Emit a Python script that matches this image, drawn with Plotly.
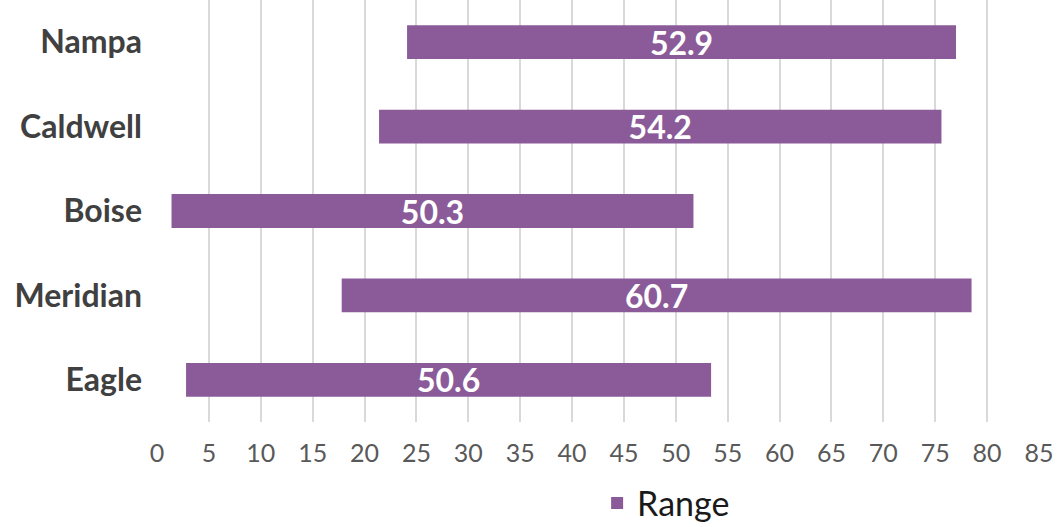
import plotly.graph_objects as go

cities = ["Eagle", "Meridian", "Boise", "Caldwell", "Nampa"]
low_values = [2.8, 17.8, 1.4, 21.4, 24.1]
range_values = [50.6, 60.7, 50.3, 54.2, 52.9]
x_ticks = list(range(0, 90, 5))

BAR_COLOR = "#8B5B99"
FONT = "Lato"

fig = go.Figure()
fig.add_trace(go.Bar(
    y=cities,
    x=range_values,
    base=low_values,
    orientation="h",
    name="Range",
    marker=dict(color=BAR_COLOR, line=dict(width=0)),
    text=[f"{v:.1f}" for v in range_values],
    textposition="inside",
    insidetextanchor="middle",
    constraintext="none",
    textangle=0,
    textfont=dict(family=FONT, size=32, color="white", weight="bold"),
    cliponaxis=False,
))

fig.update_layout(
    width=1063,
    height=527,
    margin=dict(l=157, r=24, t=0, b=105, autoexpand=False),
    plot_bgcolor="white",
    paper_bgcolor="white",
    bargap=0.6,
    showlegend=True,
    legend=dict(
        orientation="h",
        x=0.499,
        xanchor="left",
        y=-0.193,
        yanchor="middle",
        font=dict(family=FONT, size=34, color="#1a1a1a"),
        itemwidth=30,
    ),
    xaxis=dict(
        range=[0, 85],
        tickvals=x_ticks,
        showgrid=True,
        gridcolor="#D9D9D9",
        gridwidth=2,
        zeroline=False,
        showline=False,
        ticks="",
        automargin=False,
        ticklabelstandoff=14,
        tickfont=dict(family=FONT, size=25, color="#595959"),
    ),
    yaxis=dict(
        categoryorder="array",
        categoryarray=cities,
        showgrid=False,
        zeroline=False,
        showline=False,
        ticks="",
        automargin=False,
        ticklabelstandoff=14,
        tickfont=dict(family=FONT, size=32, color="#404040", weight="bold"),
    ),
)

fig.write_html(
    "out.html",
    config={"displayModeBar": False},
    post_script="document.body.style.margin='0';document.body.style.overflow='hidden';",
)
